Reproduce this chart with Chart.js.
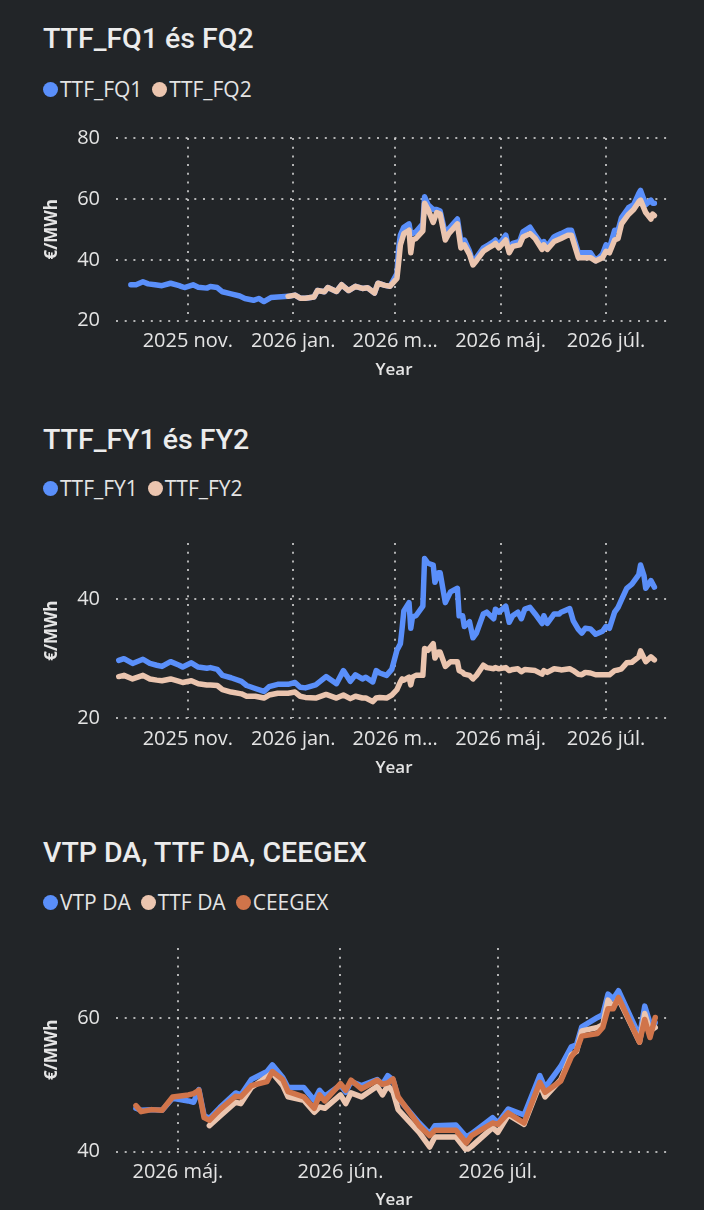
<!DOCTYPE html>
<html>
<head>
<meta charset="utf-8">
<script src="https://cdn.jsdelivr.net/npm/chart.js@4.4.0/dist/chart.umd.min.js"></script>
<style>
  html, body { margin: 0; padding: 0; background: #222528; width: 704px; height: 1210px; overflow: hidden; }
  .title { position: absolute; left: 43px; color: #ececec; font-family: Roboto, sans-serif; font-size: 28.5px; line-height: 28px; font-weight: 500; white-space: nowrap; }
  .legend { position: absolute; left: 43px; display: flex; align-items: center; height: 21px; font-family: "Open Sans", sans-serif; font-size: 21px; line-height: 21px; color: #e4e4e4; white-space: nowrap; }
  .legend .item { display: flex; align-items: center; margin-right: 10px; }
  .legend .dot { width: 15px; height: 15px; border-radius: 50%; margin-right: 2px; }
  canvas { position: absolute; left: 0; }
</style>
</head>
<body>

<div class="title" style="top:25px">TTF_FQ1 és FQ2</div>
<div class="legend" id="leg1" style="top:79px"></div>
<canvas id="c1" width="704" height="270" style="top:110px"></canvas>

<div class="title" style="top:426px">TTF_FY1 és FY2</div>
<div class="legend" id="leg2" style="top:478px"></div>
<canvas id="c2" width="704" height="263" style="top:515px"></canvas>

<div class="title" style="top:839px">VTP DA, TTF DA, CEEGEX</div>
<div class="legend" id="leg3" style="top:892px"></div>
<canvas id="c3" width="704" height="290" style="top:920px"></canvas>

<script>
// ---- colours
const BLUE = "#5a8ffa";
const BEIGE = "#ebc5af";
const ORANGE = "#d0744a";
const TEXT = "#e4e4e4";
const GRID = "rgba(205,205,205,0.85)";

// ---- panel 1: TTF_FQ1 / TTF_FQ2
const fqDates = [
  "2025-09-29","2025-10-02","2025-10-06","2025-10-09","2025-10-13","2025-10-17","2025-10-22","2025-10-27",
  "2025-10-28","2025-10-30","2025-11-04","2025-11-07","2025-11-12","2025-11-14","2025-11-18","2025-11-21",
  "2025-11-26","2025-12-01","2025-12-04","2025-12-09","2025-12-12","2025-12-15","2025-12-19","2025-12-23",
  "2025-12-29","2026-01-02","2026-01-05","2026-01-08","2026-01-13","2026-01-15","2026-01-19","2026-01-21",
  "2026-01-26","2026-01-29","2026-02-02","2026-02-06","2026-02-10","2026-02-13","2026-02-17","2026-02-19",
  "2026-02-23","2026-02-26","2026-03-02","2026-03-03","2026-03-04","2026-03-06","2026-03-09","2026-03-10",
  "2026-03-11","2026-03-13","2026-03-17","2026-03-18","2026-03-20","2026-03-23","2026-03-25","2026-03-27",
  "2026-03-30","2026-04-01","2026-04-06","2026-04-08","2026-04-10","2026-04-13","2026-04-15","2026-04-17",
  "2026-04-21","2026-04-24","2026-04-27","2026-04-28","2026-04-30","2026-05-04","2026-05-06","2026-05-08",
  "2026-05-12","2026-05-14","2026-05-18","2026-05-21","2026-05-25","2026-05-26","2026-05-28","2026-06-01",
  "2026-06-03","2026-06-05","2026-06-09","2026-06-11","2026-06-15","2026-06-18","2026-06-22","2026-06-25",
  "2026-06-29","2026-07-01","2026-07-03","2026-07-06","2026-07-08","2026-07-10","2026-07-14","2026-07-17",
  "2026-07-20","2026-07-21","2026-07-24","2026-07-27","2026-07-28","2026-07-29"
];
const fq1 = [
  31.8,31.8,32.8,32.1,31.8,31.5,32.3,31.5,
  31.3,30.9,31.8,31.0,30.7,31.2,30.9,29.5,
  28.8,28.1,27.3,26.7,27.3,26.3,27.6,27.8,
  28.0,28.4,27.4,27.4,27.8,29.9,29.5,30.9,
  29.6,31.8,29.9,31.3,30.6,30.8,29.1,32.3,
  31.6,31.3,35.5,44.0,48.1,50.7,51.8,48.6,
  48.6,49.2,51.8,60.7,58.1,56.5,56.5,56.0,
  48.6,50.2,53.4,46.0,46.5,42.8,39.2,40.7,
  43.9,44.9,46.0,46.5,44.9,48.1,42.8,45.4,
  46.0,49.2,50.7,48.1,44.9,46.0,44.4,47.6,
  48.1,48.6,49.7,49.7,42.3,42.3,42.3,39.7,
  41.8,44.9,43.9,49.7,49.7,53.9,57.1,58.1,
  61.8,62.8,58.1,59.6,58.6,58.6
];
const fq2 = [
  null,null,null,null,null,null,null,null,
  null,null,null,null,null,null,null,null,
  null,null,null,null,null,null,null,null,
  28.0,28.4,27.4,27.4,27.8,29.9,29.5,30.9,
  29.6,31.8,29.9,31.3,30.6,30.8,29.1,32.3,
  31.6,31.3,33.9,39.2,44.9,48.6,49.7,42.3,
  46.5,47.0,49.5,58.6,56.5,52.3,55.5,55.0,
  46.5,48.6,51.8,43.9,44.9,41.8,38.3,39.7,
  42.8,43.9,44.9,45.4,43.9,46.5,42.3,44.4,
  44.9,47.5,48.6,47.0,43.4,44.9,43.4,46.0,
  46.5,47.0,48.1,48.1,40.7,40.7,40.7,39.6,
  40.7,42.8,42.3,46.5,47.0,51.8,54.9,56.5,
  59.1,59.6,55.5,53.4,55.0,54.5
];

// ---- panel 2: TTF_FY1 / TTF_FY2
const fyDates = [
  "2025-09-22","2025-09-25","2025-09-30","2025-10-06","2025-10-10","2025-10-14","2025-10-17","2025-10-22",
  "2025-10-27","2025-10-29","2025-11-03","2025-11-07","2025-11-12","2025-11-14","2025-11-18","2025-11-21",
  "2025-11-26","2025-12-02","2025-12-05","2025-12-10","2025-12-15","2025-12-18","2025-12-23","2025-12-29",
  "2026-01-02","2026-01-05","2026-01-08","2026-01-14","2026-01-20","2026-01-26","2026-01-30","2026-02-03",
  "2026-02-06","2026-02-10","2026-02-12","2026-02-16","2026-02-18","2026-02-20","2026-02-24","2026-02-27",
  "2026-03-02","2026-03-04","2026-03-05","2026-03-06","2026-03-09","2026-03-10","2026-03-11","2026-03-13",
  "2026-03-17","2026-03-18","2026-03-20","2026-03-23","2026-03-24","2026-03-26","2026-03-27","2026-03-30",
  "2026-04-02","2026-04-06","2026-04-07","2026-04-09","2026-04-10","2026-04-13","2026-04-15","2026-04-17",
  "2026-04-21","2026-04-23","2026-04-27","2026-04-28","2026-04-30","2026-05-04","2026-05-06","2026-05-08",
  "2026-05-11","2026-05-13","2026-05-15","2026-05-18","2026-05-21","2026-05-25","2026-05-26","2026-05-28",
  "2026-06-01","2026-06-04","2026-06-05","2026-06-10","2026-06-12","2026-06-15","2026-06-17","2026-06-19",
  "2026-06-22","2026-06-25","2026-06-29","2026-07-01","2026-07-03","2026-07-06","2026-07-08","2026-07-10",
  "2026-07-13","2026-07-16","2026-07-20","2026-07-21","2026-07-23","2026-07-24","2026-07-27","2026-07-29"
];
const fy1 = [
  29.7,30.0,29.2,29.9,29.2,28.9,28.7,29.5,
  28.9,28.6,29.3,28.6,28.4,28.5,28.2,27.2,
  26.8,26.2,25.5,25.0,24.5,25.3,25.7,25.7,
  26.0,25.2,25.1,25.6,27.0,25.8,28.0,26.2,
  27.3,26.6,26.9,26.1,28.0,27.6,27.2,28.2,
  31.4,32.5,35.1,38.0,39.4,35.1,37.0,37.2,
  38.8,46.8,46.0,45.7,42.8,44.4,44.4,39.4,
  41.2,41.8,37.2,37.2,35.4,36.2,33.5,34.3,
  37.5,37.8,36.7,38.3,37.8,38.8,36.1,37.2,
  37.8,36.7,38.3,38.6,37.5,35.9,37.2,35.9,
  37.5,37.5,37.8,38.4,36.4,34.9,34.3,35.1,
  35.0,34.1,34.6,35.4,35.1,37.8,38.6,39.9,
  41.8,42.5,44.1,45.7,43.9,41.8,43.1,42.0
];
const fy2 = [
  27.0,27.2,26.6,27.2,26.6,26.4,26.3,26.6,
  26.2,26.0,26.3,25.8,25.6,25.6,25.5,24.8,
  24.4,24.1,23.7,23.7,23.4,23.9,24.2,24.2,
  24.4,23.7,23.5,23.4,24.0,23.4,23.9,23.3,
  23.7,23.4,23.4,22.8,23.4,23.5,23.4,23.9,
  24.8,26.1,26.6,26.4,26.9,25.6,26.9,27.2,
  27.2,31.7,31.4,32.5,30.1,31.1,31.1,28.7,
  29.5,29.5,28.0,27.7,27.4,27.2,26.6,27.2,
  28.9,28.5,28.3,28.5,28.3,28.5,28.0,28.2,
  28.3,27.8,28.2,28.1,28.0,27.4,28.0,27.7,
  28.3,28.2,28.1,28.3,28.0,27.4,27.3,27.7,
  27.6,27.3,27.3,27.3,27.3,28.0,28.1,28.3,
  29.3,29.4,30.3,31.3,30.1,29.5,30.3,29.8
];

// ---- panel 3: VTP DA / TTF DA / CEEGEX
const daDates = [
  "2026-04-23","2026-04-24","2026-04-26","2026-04-28","2026-04-30","2026-05-03","2026-05-04","2026-05-05",
  "2026-05-06","2026-05-07","2026-05-09","2026-05-12","2026-05-13","2026-05-15","2026-05-18","2026-05-19",
  "2026-05-21","2026-05-22","2026-05-25","2026-05-27","2026-05-28","2026-05-29","2026-06-01","2026-06-02",
  "2026-06-03","2026-06-05","2026-06-08","2026-06-09","2026-06-10","2026-06-11","2026-06-12","2026-06-16",
  "2026-06-18","2026-06-19","2026-06-23","2026-06-25","2026-06-26","2026-06-30","2026-07-01","2026-07-03",
  "2026-07-06","2026-07-09","2026-07-10","2026-07-13","2026-07-15","2026-07-16","2026-07-17","2026-07-20",
  "2026-07-21","2026-07-22","2026-07-23","2026-07-24","2026-07-28","2026-07-29","2026-07-30","2026-07-31"
];
const vtpDa = [
  46.5,46.2,46.3,46.2,48.0,47.6,47.4,49.3,
  45.4,45.0,46.6,48.8,48.5,50.8,52.0,53.0,
  51.1,49.6,49.6,47.7,49.2,48.3,50.0,48.9,
  50.5,49.9,50.8,50.1,51.4,50.8,48.0,44.3,
  42.7,43.9,44.0,42.2,42.7,45.1,44.3,46.4,
  45.5,51.4,49.6,52.8,55.7,56.0,58.7,60.1,
  60.5,63.6,62.9,64.1,57.3,61.8,59.3,59.3
];
const ttfDa = [
  null,null,null,null,null,null,null,null,
  null,43.9,45.3,47.4,47.2,49.6,51.2,51.8,
  49.9,48.2,47.7,45.9,46.7,46.5,48.5,47.2,
  48.8,48.2,49.8,48.5,49.9,49.0,46.3,42.9,
  40.7,42.2,42.2,40.2,40.8,43.6,42.9,45.5,
  44.1,50.1,48.2,50.8,54.5,55.0,58.1,58.6,
  59.0,62.7,61.7,62.9,56.4,60.7,58.1,58.6
];
const ceegex = [
  46.9,46.0,46.3,46.2,48.2,48.5,48.7,49.2,
  45.1,44.7,46.3,48.3,48.2,49.9,50.5,52.0,
  50.8,49.0,48.2,46.5,48.5,47.6,50.2,49.2,
  50.7,49.4,50.7,50.1,50.3,50.9,48.2,43.9,
  42.4,43.2,43.2,41.3,42.4,44.3,44.1,45.8,
  44.3,50.4,48.9,50.6,54.2,55.2,57.3,57.7,
  58.6,61.4,61.4,63.1,56.4,59.8,57.1,60.1
];

// ---- axis ticks
const longTickDates = ["2025-11-01","2026-01-01","2026-03-01","2026-05-01","2026-07-01"];
const longTickLabels = ["2025 nov.","2026 jan.","2026 m...","2026 máj.","2026 júl."];
const shortTickDates = ["2026-05-01","2026-06-01","2026-07-01"];
const shortTickLabels = ["2026 máj.","2026 jún.","2026 júl."];

function day(s) {
  const p = s.split("-").map(Number);
  return Date.UTC(p[0], p[1] - 1, p[2]) / 86400000;
}
function pts(dates, vals) {
  return dates.map((d, i) => ({ x: day(d), y: vals[i] }));
}

function legend(id, names, colors) {
  const el = document.getElementById(id);
  names.forEach((n, i) => {
    const it = document.createElement("div");
    it.className = "item";
    it.innerHTML = '<span class="dot" style="background:' + colors[i] + '"></span>' + n;
    el.appendChild(it);
  });
}

function line(label, data, color, order) {
  return {
    label: label, data: data, borderColor: color, backgroundColor: color,
    borderWidth: 5.5, pointRadius: 0, tension: 0, order: order,
    borderJoinStyle: "round", borderCapStyle: "round", spanGaps: false
  };
}

// plotTop / plotBottom are pixel rows inside the canvas
function makeChart(id, datasets, cfg) {
  const cv = document.getElementById(id);
  const H = cv.height;
  const tickVals = cfg.tickDates.map(day);
  return new Chart(cv, {
    type: "line",
    data: { datasets: datasets },
    options: {
      responsive: false,
      animation: false,
      events: [],
      layout: { padding: { left: 42, right: 32, top: cfg.plotTop, bottom: 0 } },
      plugins: { legend: { display: false }, tooltip: { enabled: false } },
      scales: {
        x: {
          type: "linear",
          min: cfg.xMin, max: cfg.xMax,
          afterBuildTicks: s => { s.ticks = tickVals.map(v => ({ value: v })); },
          afterFit: s => { s.height = H - cfg.plotBottom; },
          ticks: {
            autoSkip: false, maxRotation: 0, padding: 9, color: TEXT,
            font: { family: "'Open Sans', sans-serif", size: 20 },
            callback: v => cfg.tickLabels[tickVals.indexOf(v)]
          },
          grid: { color: GRID, lineWidth: 2, drawTicks: false },
          border: { display: false, dash: [2, 6.7] },
          title: {
            display: true, text: "Year", color: TEXT, padding: 0,
            font: { family: "'Open Sans', sans-serif", size: 17, weight: "600", lineHeight: 1.2 }
          }
        },
        y: {
          min: cfg.yMin, max: cfg.yMax,
          afterFit: s => { s.width = 74; },
          ticks: {
            stepSize: 20, includeBounds: false, padding: 16, color: TEXT,
            font: { family: "'Open Sans', sans-serif", size: 20 }
          },
          grid: { color: GRID, lineWidth: 2, drawTicks: false },
          border: { display: false, dash: [2, 6.7] },
          title: {
            display: true, text: "€/MWh", color: TEXT, padding: 0,
            font: { family: "'Open Sans', sans-serif", size: 17, weight: "700", lineHeight: 1.2 }
          }
        }
      }
    }
  });
}

legend("leg1", ["TTF_FQ1", "TTF_FQ2"], [BLUE, BEIGE]);
legend("leg2", ["TTF_FY1", "TTF_FY2"], [BLUE, BEIGE]);
legend("leg3", ["VTP DA", "TTF DA", "CEEGEX"], [BLUE, BEIGE, ORANGE]);

const longMin = day("2025-09-20") + 0.4;
const longMax = day("2026-08-08") + 0.2;
const shortMin = day("2026-04-19") + 0.2;
const shortMax = day("2026-08-03") + 0.2;

makeChart("c1", [
  line("TTF_FQ1", pts(fqDates, fq1), BLUE, 2),
  line("TTF_FQ2", pts(fqDates, fq2), BEIGE, 1)
], { plotTop: 19.5, plotBottom: 210.7, yMin: 20, yMax: 80, xMin: longMin, xMax: longMax,
     tickDates: longTickDates, tickLabels: longTickLabels });

makeChart("c2", [
  line("TTF_FY1", pts(fyDates, fy1), BLUE, 2),
  line("TTF_FY2", pts(fyDates, fy2), BEIGE, 1)
], { plotTop: 18.5, plotBottom: 203.3, yMin: 20, yMax: 49.4, xMin: longMin, xMax: longMax,
     tickDates: longTickDates, tickLabels: longTickLabels });

makeChart("c3", [
  line("VTP DA", pts(daDates, vtpDa), BLUE, 3),
  line("TTF DA", pts(daDates, ttfDa), BEIGE, 2),
  line("CEEGEX", pts(daDates, ceegex), ORANGE, 1)
], { plotTop: 20.7, plotBottom: 231.7, yMin: 40, yMax: 70.5, xMin: shortMin, xMax: shortMax,
     tickDates: shortTickDates, tickLabels: shortTickLabels });
</script>
</body>
</html>
